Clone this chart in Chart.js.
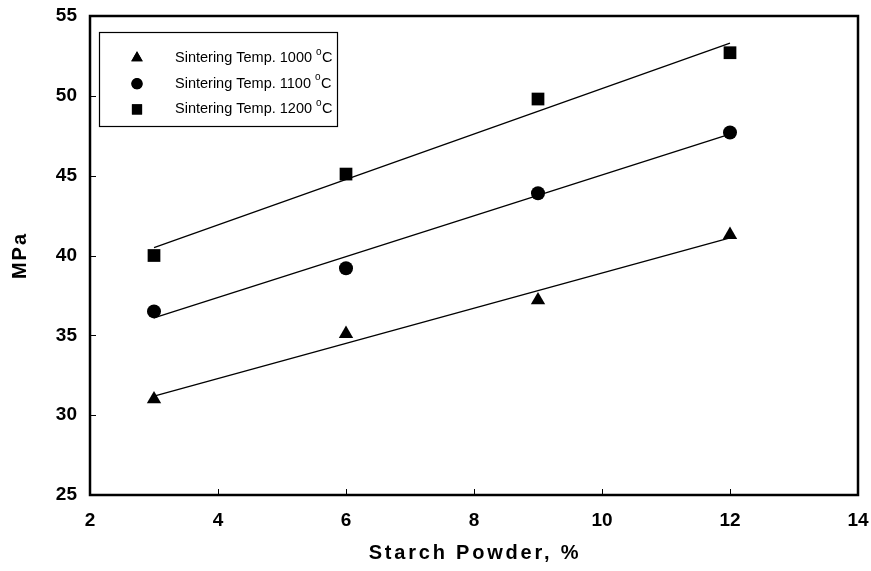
<!DOCTYPE html>
<html>
<head>
<meta charset="utf-8">
<script src="https://cdn.jsdelivr.net/npm/chart.js@4.4.1/dist/chart.umd.min.js"></script>
<style>
  html, body { margin: 0; padding: 0; background: #fff; }
  #wrap { width: 871px; height: 571px; }
</style>
</head>
<body>
<div id="wrap"><canvas id="myChart" width="871" height="571"></canvas></div>
<script>
// starch powder content, %
var starch = [3, 6, 9, 12];
// strength (MPa) for each sintering temperature
var temp1000 = [31.0, 35.1, 37.2, 41.3];
var temp1100 = [36.5, 39.2, 43.9, 47.7];
var temp1200 = [40.0, 45.1, 49.8, 52.7];
// trend lines, value at starch = 3 and starch = 12
var fitX = [3, 12];
var fit1000 = [31.2, 41.1];
var fit1100 = [36.1, 47.6];
var fit1200 = [40.5, 53.3];
var seriesNames = ["Sintering Temp. 1000", "Sintering Temp. 1100", "Sintering Temp. 1200"];
var markers = ["triangle", "circle", "rect"];
var markerSizes = [8.3, 7, 9];
var xTitle = "Starch Powder, %";
var yTitle = "MPa";

var FONT = "'Liberation Sans', Arial, sans-serif";

function pts(xs, ys) {
  return xs.map(function (x, i) { return { x: x, y: ys[i] }; });
}

var scatterSets = [temp1000, temp1100, temp1200].map(function (ys, i) {
  return {
    label: seriesNames[i],
    data: pts(starch, ys),
    pointStyle: markers[i],
    pointRadius: markerSizes[i],
    pointHoverRadius: markerSizes[i],
    backgroundColor: "#000",
    borderColor: "#000",
    borderWidth: 0,
    showLine: false
  };
});

var fitSets = [fit1000, fit1100, fit1200].map(function (ys) {
  return {
    data: pts(fitX, ys),
    showLine: true,
    borderColor: "#000",
    borderWidth: 1.3,
    pointRadius: 0,
    fill: false
  };
});

// frame around the plot, inward ticks, axis titles and the boxed legend
var framePlugin = {
  id: "frame",
  afterDraw: function (chart) {
    var ctx = chart.ctx, a = chart.chartArea;
    var xs = chart.scales.x, ys = chart.scales.y;
    ctx.save();
    ctx.strokeStyle = "#000";
    ctx.lineWidth = 1;
    ctx.beginPath();
    ys.ticks.forEach(function (t) {
      var py = Math.round(ys.getPixelForValue(t.value)) + 0.5;
      ctx.moveTo(a.left, py); ctx.lineTo(a.left + 6, py);
    });
    xs.ticks.forEach(function (t) {
      var px = Math.round(xs.getPixelForValue(t.value)) + 0.5;
      ctx.moveTo(px, a.bottom); ctx.lineTo(px, a.bottom - 6);
    });
    ctx.stroke();

    ctx.lineWidth = 2.5;
    ctx.strokeRect(a.left, a.top, a.right - a.left, a.bottom - a.top);

    // axis titles, spaced out
    ctx.fillStyle = "#000";
    ctx.font = "bold 20px " + FONT;
    ctx.letterSpacing = "2.8px";
    ctx.textAlign = "center";
    ctx.textBaseline = "middle";
    ctx.fillText(xTitle, (a.left + a.right) / 2 + 1, 553);
    ctx.save();
    ctx.translate(20, (a.top + a.bottom) / 2);
    ctx.rotate(-Math.PI / 2);
    ctx.letterSpacing = "2px";
    ctx.fillText(yTitle, 0, 0);
    ctx.restore();
    ctx.letterSpacing = "0px";

    // legend
    var lx = 99, ly = 32, lw = 238, lh = 94;
    ctx.lineWidth = 1.2;
    ctx.strokeRect(lx + 0.5, ly + 0.5, lw, lh);
    ctx.textAlign = "left";
    for (var i = 0; i < 3; i++) {
      var cy = 58 + i * 25.7;
      Chart.helpers.drawPoint(ctx, {
        pointStyle: markers[i], radius: markerSizes[i] * 0.8, rotation: 0, borderWidth: 0
      }, 137, cy);
      ctx.fill();
      ctx.font = "14.5px " + FONT;
      var txt = seriesNames[i] + " ";
      ctx.fillText(txt, 175, cy);
      var w = ctx.measureText(txt).width;
      ctx.font = "10px " + FONT;
      ctx.fillText("o", 175 + w, cy - 6);
      var w2 = ctx.measureText("o").width;
      ctx.font = "14.5px " + FONT;
      ctx.fillText("C", 175 + w + w2 + 0.5, cy);
    }
    ctx.restore();
  }
};

new Chart("myChart", {
  type: "scatter",
  data: { datasets: scatterSets.concat(fitSets) },
  plugins: [framePlugin],
  options: {
    responsive: false,
    animation: false,
    layout: { padding: { top: 16, right: 13, left: 0, bottom: 0 } },
    plugins: { legend: { display: false }, tooltip: { enabled: false } },
    scales: {
      x: {
        type: "linear",
        min: 2, max: 14,
        ticks: {
          stepSize: 2, padding: 14, color: "#000",
          font: { family: FONT, size: 19, weight: "bold" }
        },
        grid: { display: false, drawTicks: false },
        border: { display: false },
        afterFit: function (s) { s.height = 76; s.paddingLeft = 0; s.paddingRight = 0; }
      },
      y: {
        type: "linear",
        min: 25, max: 55,
        ticks: {
          stepSize: 5, padding: 13, color: "#000",
          font: { family: FONT, size: 19, weight: "bold" }
        },
        grid: { display: false, drawTicks: false },
        border: { display: false },
        afterFit: function (s) { s.width = 90; s.paddingTop = 0; s.paddingBottom = 0; }
      }
    }
  }
});
</script>
</body>
</html>
